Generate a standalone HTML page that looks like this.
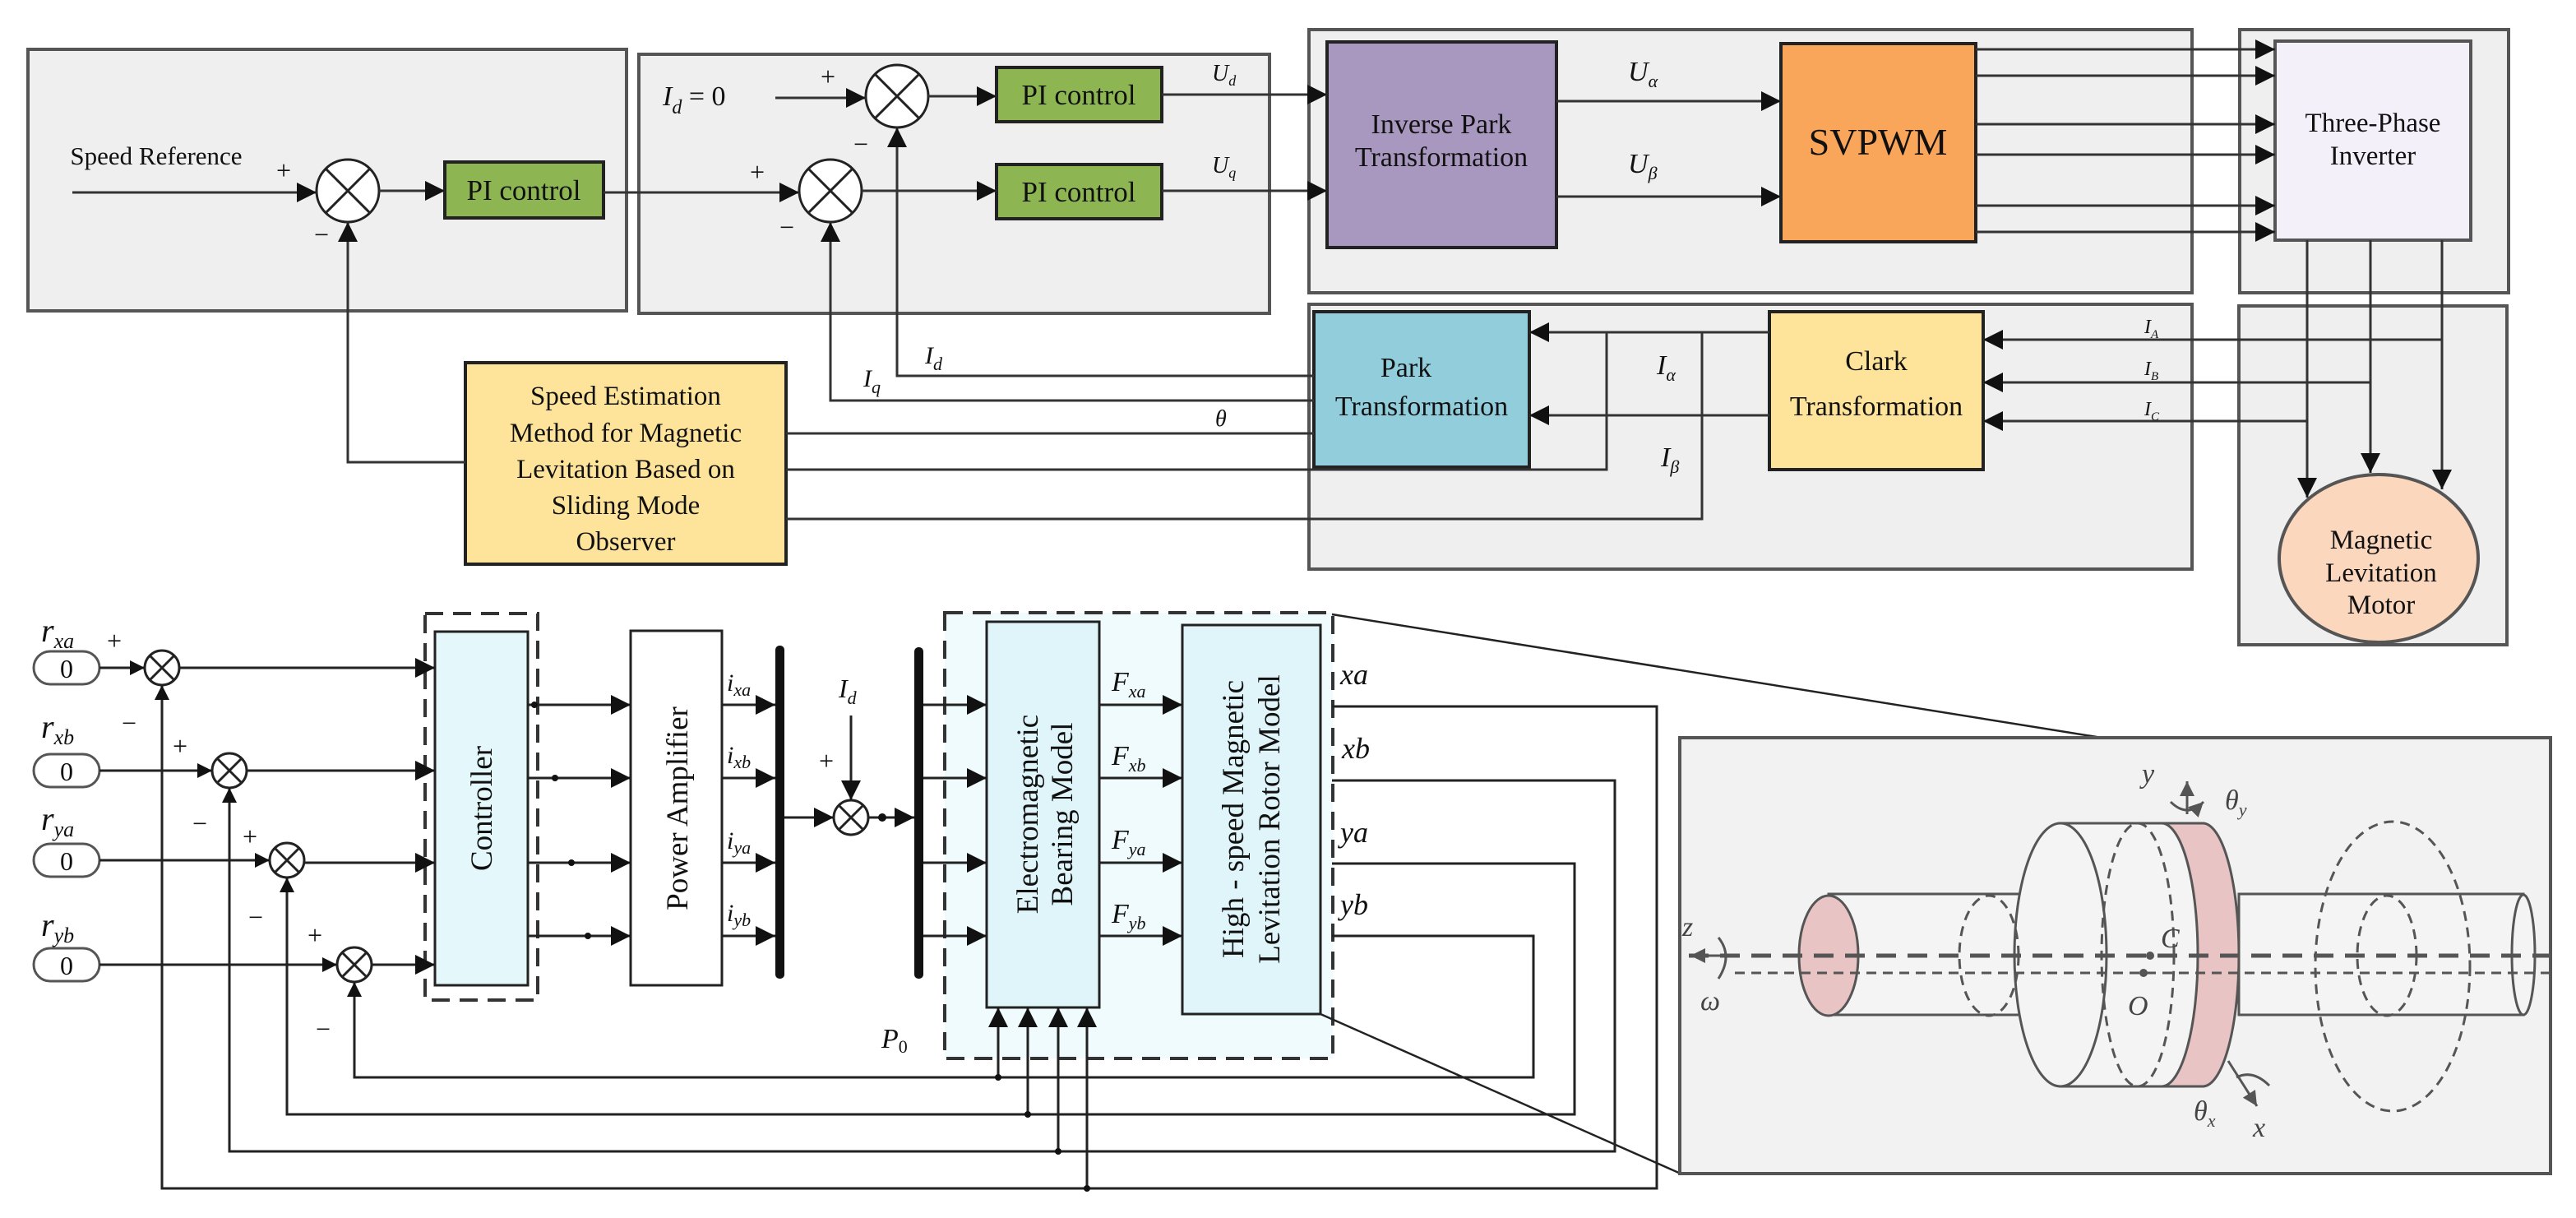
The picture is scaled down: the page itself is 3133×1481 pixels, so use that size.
<!DOCTYPE html>
<html><head><meta charset="utf-8"><style>
html,body{margin:0;padding:0;background:#fff}
svg{display:block}
svg text{font-family:"Liberation Serif","DejaVu Serif",serif}
</style></head><body>
<svg width="3133" height="1481" viewBox="0 0 3133 1481" xmlns="http://www.w3.org/2000/svg" font-family="Liberation Serif, DejaVu Serif, serif" fill="#111">
<defs>
<marker id="a" markerUnits="userSpaceOnUse" markerWidth="26" markerHeight="26" refX="24" refY="12" orient="auto"><path d="M0,0 L24,12 L0,24 Z" fill="#111"/></marker>
<marker id="s" markerUnits="userSpaceOnUse" markerWidth="20" markerHeight="20" refX="18" refY="9" orient="auto"><path d="M0,0 L18,9 L0,18 Z" fill="#111"/></marker>
<marker id="g" markerUnits="userSpaceOnUse" markerWidth="20" markerHeight="20" refX="18" refY="9" orient="auto"><path d="M0,0 L18,9 L0,18 Z" fill="#555"/></marker>
</defs>
<!-- gray panels -->
<g fill="#efefef" stroke="#555" stroke-width="4">
<rect x="34" y="60" width="728" height="318"/>
<rect x="777" y="66" width="767" height="315"/>
<rect x="1592" y="36" width="1074" height="320"/>
<rect x="2724" y="36" width="327" height="320"/>
<rect x="1592" y="370" width="1074" height="322"/>
<rect x="2723" y="372" width="326" height="412"/>
</g>
<!-- top blocks -->
<g stroke="#222" stroke-width="4">
<rect x="541" y="197" width="193" height="68" fill="#8db653"/>
<rect x="1212" y="82" width="201" height="66" fill="#8db653"/>
<rect x="1212" y="200" width="201" height="66" fill="#8db653"/>
<rect x="1614" y="51" width="279" height="250" fill="#a898bf"/>
<rect x="2166" y="53" width="237" height="241" fill="#f9a55a"/>
<rect x="2767" y="50" width="238" height="242" fill="#f4f0fa" stroke="#555"/>
<rect x="1598" y="379" width="262" height="189" fill="#92cddc"/>
<rect x="2152" y="379" width="260" height="192" fill="#fde49a"/>
<rect x="566" y="441" width="390" height="245" fill="#fde49a"/>
<ellipse cx="2893" cy="679" rx="121" ry="102" fill="#fad7bd" stroke="#555"/>
</g>
<g fill="#fff" stroke="#222" stroke-width="3">
<circle cx="423" cy="232" r="38"/><circle cx="1010" cy="232" r="38"/><circle cx="1091" cy="117" r="38"/>
</g>
<g stroke="#222" stroke-width="3">
<path d="M396,205 L450,259 M450,205 L396,259 M983,205 L1037,259 M1037,205 L983,259 M1064,90 L1118,144 M1118,90 L1064,144"/>
</g>
<!-- top connectors -->
<g stroke="#333" stroke-width="3" fill="none">
<path d="M88,234 H385" marker-end="url(#a)"/>
<path d="M461,232 H541" marker-end="url(#a)"/>
<path d="M734,234 H972" marker-end="url(#a)"/>
<path d="M1048,232 H1212" marker-end="url(#a)"/>
<path d="M943,119 H1053" marker-end="url(#a)"/>
<path d="M1129,117 H1212" marker-end="url(#a)"/>
<path d="M1413,115 H1614" marker-end="url(#a)"/>
<path d="M1413,232 H1614" marker-end="url(#a)"/>
<path d="M1893,123 H2166" marker-end="url(#a)"/>
<path d="M1893,239 H2166" marker-end="url(#a)"/>
<path d="M2403,60 H2767" marker-end="url(#a)"/>
<path d="M2403,92 H2767" marker-end="url(#a)"/>
<path d="M2403,151 H2767" marker-end="url(#a)"/>
<path d="M2403,188 H2767" marker-end="url(#a)"/>
<path d="M2403,250 H2767" marker-end="url(#a)"/>
<path d="M2403,282 H2767" marker-end="url(#a)"/>
<path d="M566,562 H423 V270" marker-end="url(#a)"/>
<path d="M1598,457 H1091 V155" marker-end="url(#a)"/>
<path d="M1598,487 H1010 V270" marker-end="url(#a)"/>
<path d="M956,527 H1598"/>
<path d="M956,571 H1954 V404"/>
<path d="M956,631 H2070 V404"/>
<path d="M2152,404 H1860" marker-end="url(#a)"/>
<path d="M2152,505 H1860" marker-end="url(#a)"/>
<path d="M2970,413 H2412" marker-end="url(#a)"/>
<path d="M2883,465 H2412" marker-end="url(#a)"/>
<path d="M2806,512 H2412" marker-end="url(#a)"/>
<path d="M2806,292 V605" marker-end="url(#a)"/>
<path d="M2883,292 V575" marker-end="url(#a)"/>
<path d="M2970,292 V595" marker-end="url(#a)"/>
</g>
<!-- top text -->
<g font-size="31" text-anchor="middle" font-family="Liberation Serif, serif">
<text x="190" y="200">Speed Reference</text>
<text x="637" y="243" font-size="35">PI control</text>
<text x="1312" y="127" font-size="35">PI control</text>
<text x="1312" y="245" font-size="35">PI control</text>
<text x="1753" y="162" font-size="34">Inverse Park</text>
<text x="1753" y="202" font-size="34">Transformation</text>
<text x="2284" y="188" font-size="46">SVPWM</text>
<text x="2886" y="160" font-size="33">Three-Phase</text>
<text x="2886" y="200" font-size="33">Inverter</text>
<text x="1710" y="458" font-size="34">Park</text>
<text x="1729" y="505" font-size="34">Transformation</text>
<text x="2282" y="450" font-size="34">Clark</text>
<text x="2282" y="505" font-size="34">Transformation</text>
<text x="761" y="492" font-size="33">Speed Estimation</text>
<text x="761" y="537" font-size="33">Method for Magnetic</text>
<text x="761" y="581" font-size="33">Levitation Based on</text>
<text x="761" y="625" font-size="33">Sliding Mode</text>
<text x="761" y="669" font-size="33">Observer</text>
<text x="2896" y="667" font-size="33">Magnetic</text>
<text x="2896" y="707" font-size="33">Levitation</text>
<text x="2896" y="746" font-size="33">Motor</text>
</g>
<g font-size="34" font-style="italic" font-family="Liberation Serif, serif">
<text x="806" y="128">I<tspan font-size="24" dy="10">d</tspan><tspan dy="-10" font-style="normal"> = 0</tspan></text>
<text x="1474" y="98" font-size="28">U<tspan font-size="18" dy="6">d</tspan></text>
<text x="1474" y="210" font-size="28">U<tspan font-size="18" dy="6">q</tspan></text>
<text x="1980" y="98">U<tspan font-size="22" dy="8">α</tspan></text>
<text x="1980" y="210">U<tspan font-size="22" dy="8">β</tspan></text>
<text x="1125" y="442" font-size="30">I<tspan font-size="22" dy="8">d</tspan></text>
<text x="1050" y="470" font-size="30">I<tspan font-size="22" dy="8">q</tspan></text>
<text x="1478" y="518" font-size="28">θ</text>
<text x="2015" y="455">I<tspan font-size="22" dy="8">α</tspan></text>
<text x="2020" y="567">I<tspan font-size="22" dy="8">β</tspan></text>
<text x="2608" y="405" font-size="24">I<tspan font-size="15" dy="6">A</tspan></text>
<text x="2608" y="456" font-size="24">I<tspan font-size="15" dy="6">B</tspan></text>
<text x="2608" y="505" font-size="24">I<tspan font-size="15" dy="6">C</tspan></text>
</g>
<g font-size="32" font-family="Liberation Serif, serif">
<text x="336" y="218">+</text><text x="382" y="296">−</text>
<text x="912" y="220">+</text><text x="948" y="287">−</text>
<text x="998" y="104">+</text><text x="1038" y="186">−</text>
</g>

<!-- bottom section -->
<rect x="1149" y="745" width="472" height="542" fill="#f0fbfd" stroke="#333" stroke-width="4" stroke-dasharray="22,12"/>
<rect x="517" y="746" width="137" height="470" fill="none" stroke="#333" stroke-width="4" stroke-dasharray="22,12"/>
<g stroke="#222" stroke-width="3">
<rect x="529" y="768" width="113" height="430" fill="#e4f8fb"/>
<rect x="767" y="767" width="111" height="431" fill="#fff"/>
<rect x="1200" y="756" width="137" height="469" fill="#dff5fa"/>
<rect x="1438" y="760" width="168" height="473" fill="#dff5fa"/>
</g>
<rect x="943" y="785" width="11" height="405" rx="5" fill="#111"/>
<rect x="1112" y="787" width="11" height="403" rx="5" fill="#111"/>
<g fill="#fff" stroke="#555" stroke-width="3">
<rect x="41" y="792" width="80" height="40" rx="20"/>
<rect x="41" y="917" width="80" height="40" rx="20"/>
<rect x="41" y="1026" width="80" height="40" rx="20"/>
<rect x="41" y="1153" width="80" height="40" rx="20"/>
</g>
<g font-size="32" text-anchor="middle" font-family="Liberation Serif, serif">
<text x="81" y="824">0</text><text x="81" y="949">0</text><text x="81" y="1058">0</text><text x="81" y="1185">0</text>
</g>
<g fill="#fff" stroke="#222" stroke-width="3">
<circle cx="197" cy="812" r="21"/><circle cx="279" cy="937" r="21"/><circle cx="349" cy="1046" r="21"/><circle cx="431" cy="1173" r="21"/><circle cx="1035" cy="994" r="21"/>
</g>
<g stroke="#222" stroke-width="3">
<path d="M182,797 L212,827 M212,797 L182,827 M264,922 L294,952 M294,922 L264,952 M334,1031 L364,1061 M364,1031 L334,1061 M416,1158 L446,1188 M446,1158 L416,1188 M1020,979 L1050,1009 M1050,979 L1020,1009"/>
</g>
<g stroke="#222" stroke-width="3" fill="none">
<path d="M121,812 H176" marker-end="url(#s)"/>
<path d="M121,937 H258" marker-end="url(#s)"/>
<path d="M121,1046 H328" marker-end="url(#s)"/>
<path d="M121,1173 H410" marker-end="url(#s)"/>
<path d="M218,812 H529" marker-end="url(#a)"/>
<path d="M300,937 H529" marker-end="url(#a)"/>
<path d="M370,1049 H529" marker-end="url(#a)"/>
<path d="M452,1173 H529" marker-end="url(#a)"/>
<path d="M642,857 H767" marker-end="url(#a)"/>
<path d="M642,946 H767" marker-end="url(#a)"/>
<path d="M642,1049 H767" marker-end="url(#a)"/>
<path d="M642,1138 H767" marker-end="url(#a)"/>
<path d="M878,857 H943" marker-end="url(#a)"/>
<path d="M878,946 H943" marker-end="url(#a)"/>
<path d="M878,1049 H943" marker-end="url(#a)"/>
<path d="M878,1138 H943" marker-end="url(#a)"/>
<path d="M954,994 H1014" marker-end="url(#a)"/>
<path d="M1035,870 V973" marker-end="url(#a)"/>
<path d="M1056,994 H1112" marker-end="url(#a)"/>
<path d="M1123,857 H1200" marker-end="url(#a)"/>
<path d="M1123,946 H1200" marker-end="url(#a)"/>
<path d="M1123,1049 H1200" marker-end="url(#a)"/>
<path d="M1123,1138 H1200" marker-end="url(#a)"/>
<path d="M1337,857 H1438" marker-end="url(#a)"/>
<path d="M1337,946 H1438" marker-end="url(#a)"/>
<path d="M1337,1049 H1438" marker-end="url(#a)"/>
<path d="M1337,1138 H1438" marker-end="url(#a)"/>
<path d="M1620,859 H2015 V1445 H197 V833" marker-end="url(#s)"/>
<path d="M1620,949 H1964 V1400 H279 V958" marker-end="url(#s)"/>
<path d="M1620,1050 H1915 V1355 H349 V1067" marker-end="url(#s)"/>
<path d="M1620,1138 H1865 V1310 H431 V1194" marker-end="url(#s)"/>
<path d="M1214,1310 V1225" marker-end="url(#a)"/>
<path d="M1250,1355 V1225" marker-end="url(#a)"/>
<path d="M1287,1400 V1225" marker-end="url(#a)"/>
<path d="M1322,1445 V1225" marker-end="url(#a)"/>
<path d="M1620,747 L2556,897" stroke-width="2.5"/>
<path d="M1606,1233 L2044,1427" stroke-width="2.5"/>
</g>
<g fill="#111">
<circle cx="650" cy="857" r="4"/><circle cx="675" cy="946" r="4"/><circle cx="695" cy="1049" r="4"/><circle cx="715" cy="1138" r="4"/>
<circle cx="1073" cy="994" r="5"/>
<circle cx="1214" cy="1310" r="4"/><circle cx="1250" cy="1355" r="4"/><circle cx="1287" cy="1400" r="4"/><circle cx="1322" cy="1445" r="4"/>
</g>
<g font-size="40" font-style="italic" font-family="Liberation Serif, serif">
<text x="50" y="780">r<tspan font-size="26" dy="8">xa</tspan></text>
<text x="50" y="897">r<tspan font-size="26" dy="8">xb</tspan></text>
<text x="50" y="1009">r<tspan font-size="26" dy="8">ya</tspan></text>
<text x="50" y="1138">r<tspan font-size="26" dy="8">yb</tspan></text>
<text x="884" y="840" font-size="30">i<tspan font-size="22" dy="6">xa</tspan></text>
<text x="884" y="928" font-size="30">i<tspan font-size="22" dy="6">xb</tspan></text>
<text x="884" y="1032" font-size="30">i<tspan font-size="22" dy="6">ya</tspan></text>
<text x="884" y="1120" font-size="30">i<tspan font-size="22" dy="6">yb</tspan></text>
<text x="1020" y="848" font-size="32">I<tspan font-size="22" dy="8">d</tspan></text>
<text x="1352" y="840" font-size="34">F<tspan font-size="22" dy="8">xa</tspan></text>
<text x="1352" y="930" font-size="34">F<tspan font-size="22" dy="8">xb</tspan></text>
<text x="1352" y="1032" font-size="34">F<tspan font-size="22" dy="8">ya</tspan></text>
<text x="1352" y="1122" font-size="34">F<tspan font-size="22" dy="8">yb</tspan></text>
<text x="1072" y="1274" font-size="34">P<tspan font-size="22" dy="6" font-style="normal">0</tspan></text>
<text x="1630" y="832" font-size="36">xa</text>
<text x="1632" y="922" font-size="36">xb</text>
<text x="1630" y="1024" font-size="36">ya</text>
<text x="1630" y="1112" font-size="36">yb</text>
</g>
<g font-size="32" font-family="Liberation Serif, serif">
<text x="130" y="790">+</text><text x="148" y="890">−</text>
<text x="210" y="918">+</text><text x="234" y="1012">−</text>
<text x="295" y="1028">+</text><text x="302" y="1126">−</text>
<text x="374" y="1148">+</text><text x="384" y="1262">−</text>
<text x="996" y="936">+</text>
</g>
<g font-size="37" text-anchor="middle" font-family="Liberation Serif, serif">
<text transform="translate(598,983) rotate(-90)">Controller</text>
<text transform="translate(836,983) rotate(-90)">Power Amplifier</text>
<text transform="translate(1262,990) rotate(-90)">Electromagnetic</text>
<text transform="translate(1304,990) rotate(-90)">Bearing Model</text>
<text transform="translate(1512,996) rotate(-90)">High - speed Magnetic</text>
<text transform="translate(1556,996) rotate(-90)">Levitation Rotor Model</text>
</g>

<!-- 3D rotor panel -->
<rect x="2043" y="897" width="1059" height="530" fill="#f2f2f2" stroke="#555" stroke-width="4"/>
<g stroke="#555" stroke-width="3" fill="#f4f4f4">
<path d="M2224,1087 H2506 V1234 H2224 Z"/>
<path d="M2506,1001 H2679 V1321 H2506 Z" />
<ellipse cx="2506" cy="1161" rx="56" ry="160"/>
<path d="M2723,1087 H3069 V1234 H2723 Z"/>
<ellipse cx="3069" cy="1161" rx="14" ry="73"/>
<path d="M2629,1001 H2679 A44,160 0 0 1 2679,1321 H2629 A44,160 0 0 0 2629,1001 Z" fill="#e8c4c4"/>
<ellipse cx="2224" cy="1162" rx="36" ry="73" fill="#e8c4c4"/>
</g>
<g stroke="#555" stroke-width="3" fill="none" stroke-dasharray="12,8">
<ellipse cx="2419" cy="1162" rx="36" ry="73"/>
<ellipse cx="2600" cy="1161" rx="44" ry="160"/>
<ellipse cx="2903" cy="1162" rx="36" ry="73"/>
<ellipse cx="2910" cy="1175" rx="94" ry="176"/>
<path d="M2054,1162 H3100" stroke-width="5" stroke-dasharray="24,14"/>
<path d="M2110,1183 H3100"/>
</g>
<g stroke="#555" stroke-width="3" fill="none">
<path d="M2110,1162 H2056" marker-end="url(#g)"/>
<path d="M2090,1140 Q2108,1162 2090,1190"/>
<path d="M2660,990 V950" marker-end="url(#g)"/>
<path d="M2640,975 Q2660,995 2680,975" marker-end="url(#g)"/>
<path d="M2710,1290 L2745,1345" marker-end="url(#g)"/>
<path d="M2720,1310 Q2740,1300 2760,1320"/>
</g>
<g fill="#555"><circle cx="2615" cy="1162" r="5"/><circle cx="2607" cy="1183" r="5"/></g>
<g font-size="34" font-style="italic" fill="#444" font-family="Liberation Serif, serif">
<text x="2046" y="1138">z</text>
<text x="2068" y="1228">ω</text>
<text x="2605" y="952">y</text>
<text x="2706" y="984">θ<tspan font-size="22" dy="8">y</tspan></text>
<text x="2628" y="1152">C</text>
<text x="2588" y="1234">O</text>
<text x="2668" y="1362">θ<tspan font-size="22" dy="8">x</tspan></text>
<text x="2740" y="1382">x</text>
</g>
</svg>
</body></html>
